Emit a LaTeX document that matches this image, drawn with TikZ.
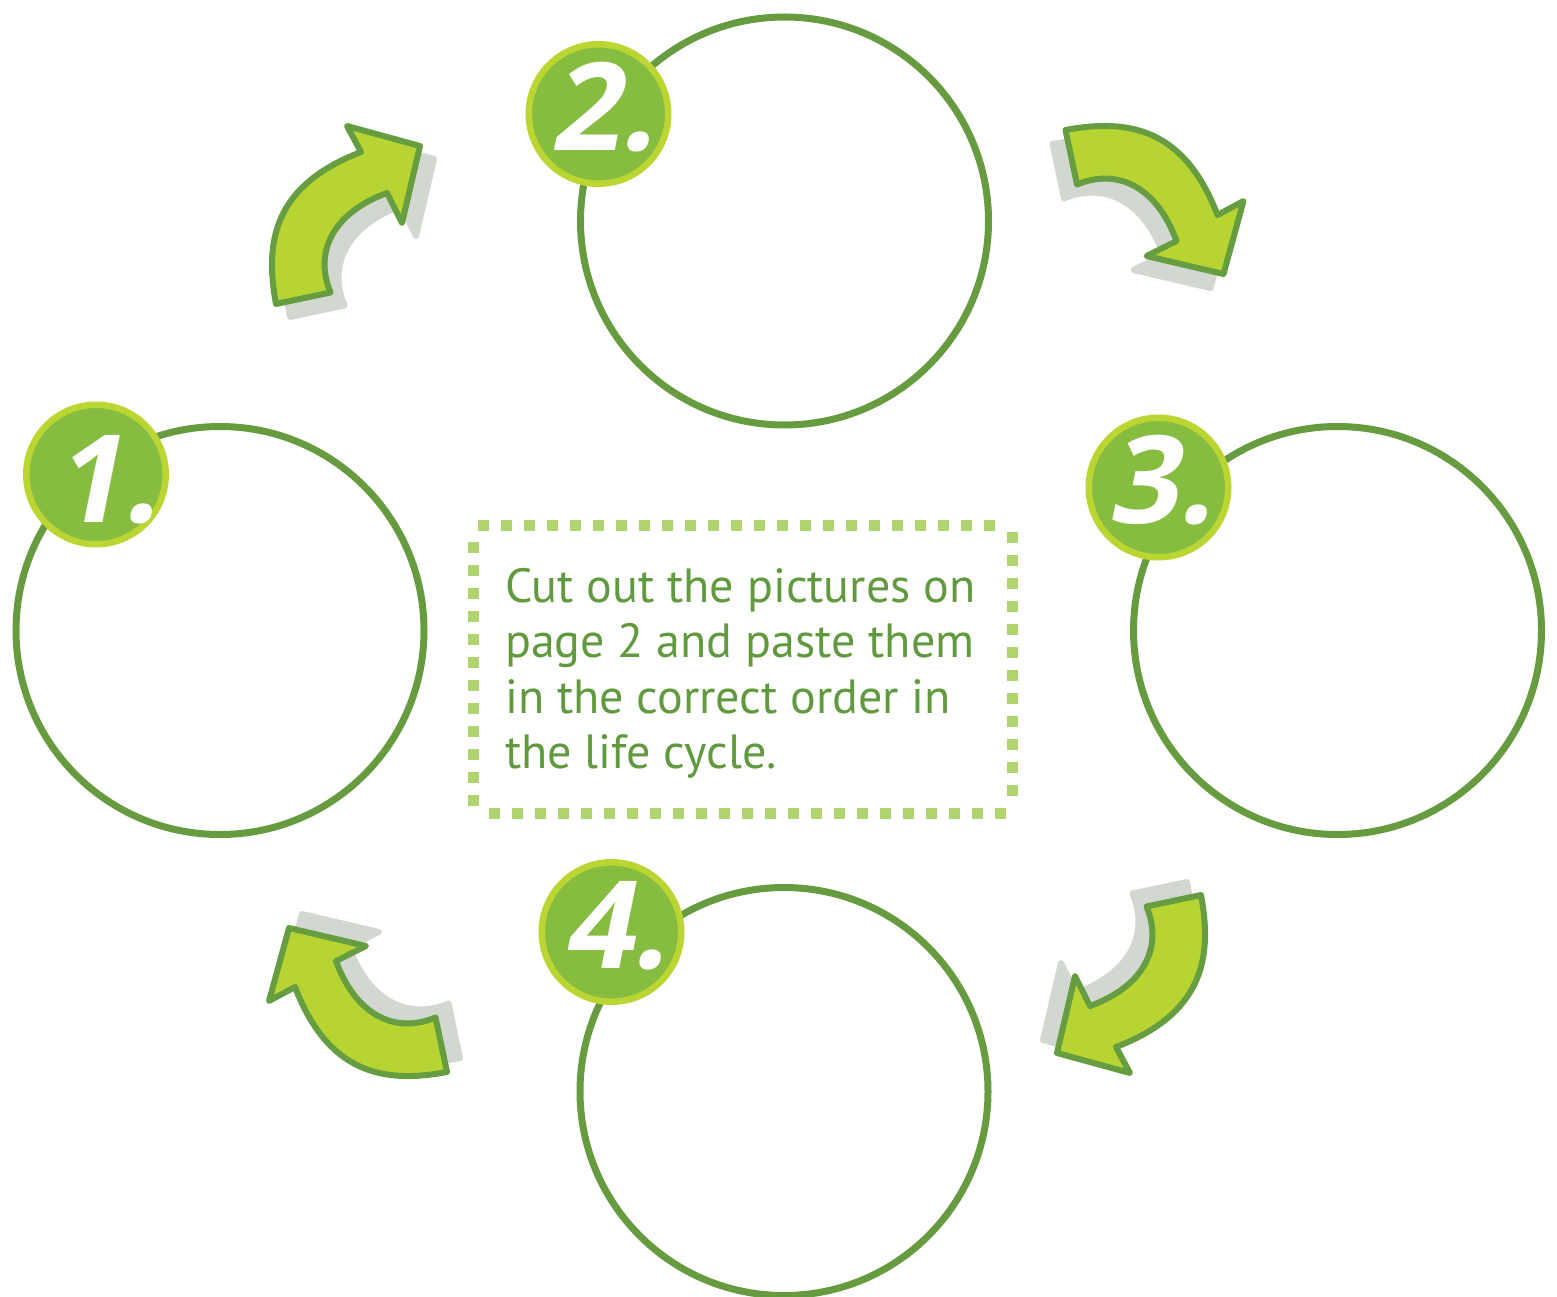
\documentclass[tikz,border=0pt]{standalone}
\usepackage{fontspec}
\setmainfont{PT Sans}
\newfontfamily\numfont[FakeSlant=0.2]{Open Sans}
\definecolor{ringgreen}{HTML}{679B3F}
\definecolor{badgein}{HTML}{86BD40}
\definecolor{badgering}{HTML}{BBD632}
\definecolor{arrowfill}{HTML}{B8D432}
\definecolor{arrowline}{HTML}{659D40}
\definecolor{shadowgray}{HTML}{D2D8D0}
\definecolor{txtgreen}{HTML}{619A3E}
\definecolor{dotgreen}{HTML}{B0D470}
\tikzset{
  ringnode/.style={circle, draw=ringgreen, line width=7pt, minimum size=408pt, inner sep=0pt},
  badgenode/.style={circle, fill=badgein, draw=badgering, line width=6.5pt, minimum size=139.5pt, inner sep=0pt},
  numnode/.style={anchor=base, inner sep=0pt, text=white, font=\numfont\bfseries\fontsize{122}{122}\selectfont},
  arrowbody/.style={fill=arrowfill, draw=arrowline, line width=6pt, line join=round},
  arrowshadow/.style={fill=shadowgray, draw=shadowgray, line width=6pt, line join=round},
  dotline/.style={draw=dotgreen, line width=11pt, dash pattern=on 11pt off 12pt},
  arrowpath/.pic={
    \path[arrowshadow] ([shift={(14,13)}]-69,88.5) .. controls ([shift={(14,13)}]-81,24.5) and ([shift={(14,13)}]-70,-30.5) .. ([shift={(14,13)}]16,-63.5)
      -- ([shift={(14,13)}]2,-89.5) -- ([shift={(14,13)}]75,-69.5) -- ([shift={(14,13)}]57,7.5) -- ([shift={(14,13)}]42,-22.5)
      .. controls ([shift={(14,13)}]-10,-3.5) and ([shift={(14,13)}]-32,34.5) .. ([shift={(14,13)}]-14.5,77) -- cycle;
    \path[arrowbody] (-69,88.5) .. controls (-81,24.5) and (-70,-30.5) .. (16,-63.5)
      -- (2,-89.5) -- (75,-69.5) -- (57,7.5) -- (42,-22.5)
      .. controls (-10,-3.5) and (-32,34.5) .. (-14.5,77) -- cycle;
  }
}
\begin{document}
\begin{tikzpicture}[x=1pt, y=-1pt]
\useasboundingbox (0,0) rectangle (1557,1297);

% arrows
\pic[rotate=0] at (345,215.5) {arrowpath};
\pic[rotate=-90] at (1154,199) {arrowpath};
\pic[rotate=180] at (1132,983.5) {arrowpath};
\pic[rotate=90] at (358.5,1003) {arrowpath};

% circles
\node[ringnode] (c1) at (220,630.5) {};
\node[ringnode] (c2) at (784.5,221) {};
\node[ringnode] (c3) at (1337.5,630.5) {};
\node[ringnode] (c4) at (784,1091.5) {};

% badges
\node[badgenode] (b1) at (96,474.5) {};
\node[badgenode] (b2) at (598.5,114) {};
\node[badgenode] (b3) at (1158.5,487.5) {};
\node[badgenode] (b4) at (611.5,932) {};

\node[numnode] (n1) at (105,522) {1.};
\node[numnode] (n2) at (602,151) {2.};
\node[numnode] (n3) at (1160,523) {3.};
\node[numnode] (n4) at (614.5,968) {4.};

% dotted box
\draw[dotline] (478,525.5) -- (995,525.5);
\draw[dotline] (1012,531.5) -- (1012,796.5);
\draw[dotline] (489,813) -- (1007,813);
\draw[dotline] (473,542) -- (473,807);

\node[anchor=base west, align=left, inner sep=0pt, text=txtgreen, font=\fontsize{48}{55.5}\selectfont] (msg) at (505,768.5)
  {Cut out the pictures on\\page 2 and paste them\\in the correct order in\\the life cycle.};
\end{tikzpicture}
\end{document}
